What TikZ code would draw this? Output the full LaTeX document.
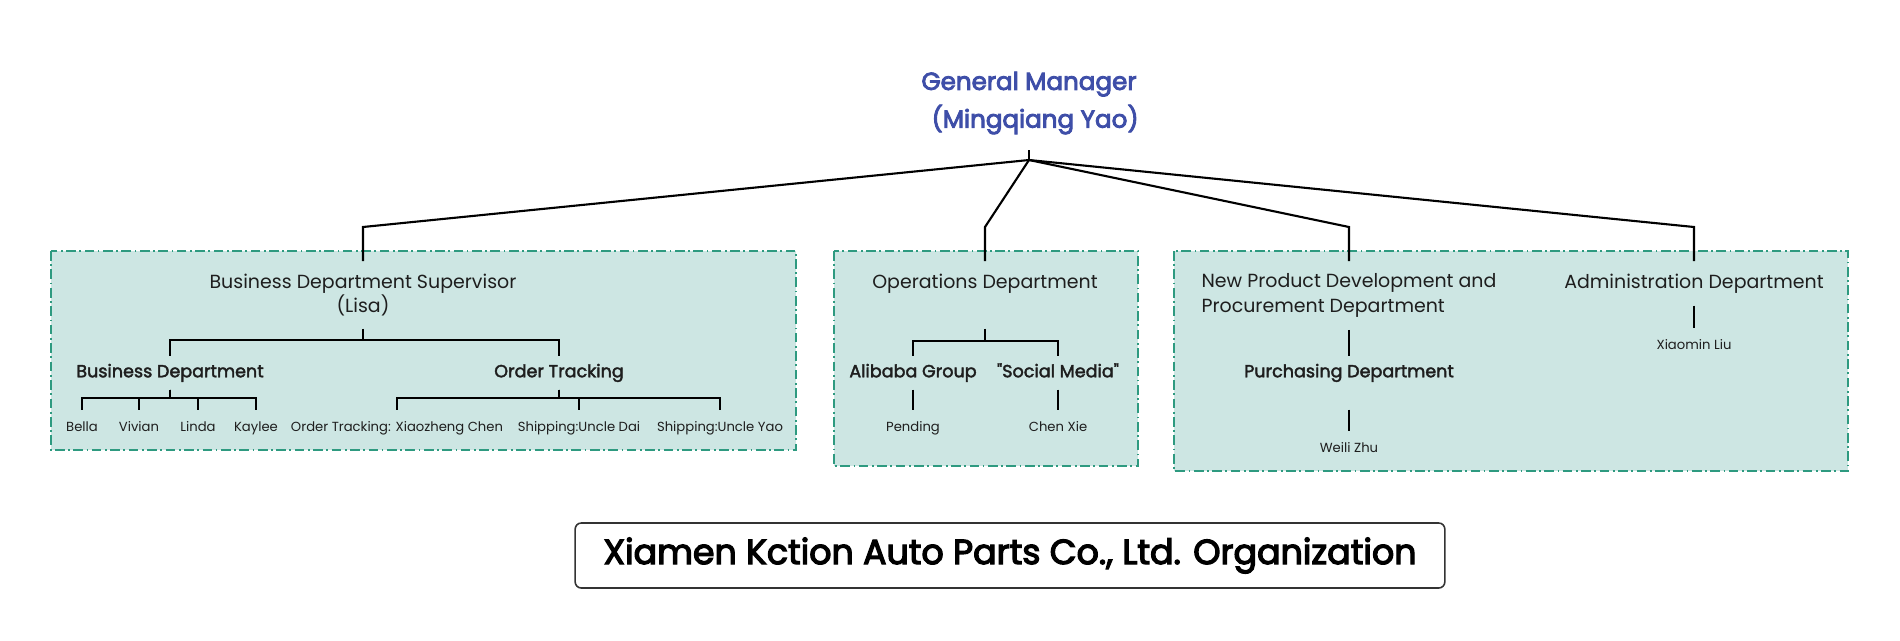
\documentclass[tikz,border=0pt]{standalone}
\usepackage{fontspec}
\setmainfont{Poppins}
\newfontfamily\popmed{Poppins}[FakeBold=2.2]
\newfontfamily\popsemi{Poppins}[FakeBold=3.6]
\usepackage{xcolor}
\usepackage{tikz}

\definecolor{gmblue}{HTML}{3E4EA8}
\definecolor{deptfill}{HTML}{CDE6E3}
\definecolor{deptline}{HTML}{2E9A80}
\definecolor{inkgray}{HTML}{1E1E1E}

\begin{document}
\begin{tikzpicture}[
  x=0.02cm,
  y=-0.02cm,
  every node/.style={text=inkgray},
  link/.style={
    draw=black,
    line width=1.2pt
  },
  deptbox/.style={
    fill=deptfill,
    draw=deptline,
    line width=1.1pt,
    dash pattern=on 5.5pt off 2pt on 1pt off 2pt
  },
  chief/.style={
    align=center,
    inner ysep=9pt,
    text=gmblue,
    font=\popsemi\fontsize{14}{21.5}\selectfont
  },
  dept/.style={
    align=center,
    anchor=north,
    inner ysep=7pt,
    font=\fontsize{10.8}{14}\selectfont
  },
  subdept/.style={
    anchor=north,
    inner ysep=4.5pt,
    text height=0.74em,
    text depth=0.24em,
    font=\popmed\fontsize{10}{12}\selectfont
  },
  member/.style={
    inner ysep=4.5pt,
    text height=0.74em,
    text depth=0.24em,
    font=\fontsize{7.5}{9}\selectfont
  },
  banner/.style={
    rectangle,
    rounded corners=3.5pt,
    draw=black!80,
    fill=white,
    line width=0.9pt,
    minimum width=495pt,
    minimum height=37pt,
    text=black,
    font=\popsemi\fontsize{19.8}{23}\selectfont
  }
]
\useasboundingbox (0,0) rectangle (1900,640);

% General manager
\node[chief] (gm) at (1029,103) {General Manager\\\hspace{7pt}(Mingqiang Yao)};
\coordinate (hub) at (1029,160);
\coordinate (elbow) at (0,227);

% Department panels
\draw[deptbox] (51,251) rectangle (796,450);
\draw[deptbox] (834,251) rectangle (1138,466);
\draw[deptbox] (1174,251) rectangle (1848,471);

% Business side
\node[dept] (sup) at (363,261) {Business Department Supervisor\\(Lisa)};
\node[subdept] (bd) at (170,356) {Business Department};
\node[subdept] (ot) at (559,356) {Order Tracking};
\node[member] (bella) at (82,427) {Bella};
\node[member] (vivian) at (139,427) {Vivian};
\node[member] (linda) at (198,427) {Linda};
\node[member] (kaylee) at (256,427) {Kaylee};
\node[member] (xzchen) at (397,427) {Order Tracking: Xiaozheng Chen};
\node[member] (udai) at (579,427) {Shipping:Uncle Dai};
\node[member] (uyao) at (720,427) {Shipping:Uncle Yao};

% Operations
\node[dept, text depth=16pt] (ops) at (985,261) {Operations Department};
\node[subdept] (alibaba) at (913,356) {Alibaba Group};
\node[subdept] (social) at (1058,356) {"Social Media"};
\node[member] (pending) at (913,427) {Pending};
\node[member] (chenxie) at (1058,427) {Chen Xie};

% Product development and administration
\node[dept, align=left] (npd) at (1349,261) {New Product Development and\\Procurement Department};
\node[subdept, text depth=13.7pt] (purch) at (1349,356) {Purchasing Department};
\node[member] (weili) at (1349,448) {Weili Zhu};
\node[dept] (admin) at (1694,261) {Administration Department};
\node[member] (xiaomin) at (1694,345) {Xiaomin Liu};

% Lines from the general manager
\draw[link] (gm.south) -- (hub);
\foreach \d in {sup,ops,npd,admin}
  \draw[link] (hub) -- (\d.north |- elbow) -- (\d.north);

% Lines inside the panels
\foreach \k in {bd,ot}
  \draw[link] (sup.south) -- ++(0,11) -| (\k.north);
\foreach \k in {bella,vivian,linda,kaylee}
  \draw[link] (bd.south) -- ++(0,8) -| (\k.north);
\foreach \k in {xzchen,udai,uyao}
  \draw[link] (ot.south) -- ++(0,8) -| (\k.north);
\foreach \k in {alibaba,social}
  \draw[link] (ops.south) -- ++(0,12) -| (\k.north);
\draw[link] (alibaba.south) -- (pending.north);
\draw[link] (social.south) -- (chenxie.north);
\draw[link] (npd.south) -- (purch.north);
\draw[link] (purch.south) -- (weili.north);
\draw[link] (admin.south) -- (xiaomin.north);

% Caption
\node[banner] (caption) at (1010,555.5) {Xiamen Kction Auto Parts Co., Ltd. Organization};

\end{tikzpicture}
\end{document}
